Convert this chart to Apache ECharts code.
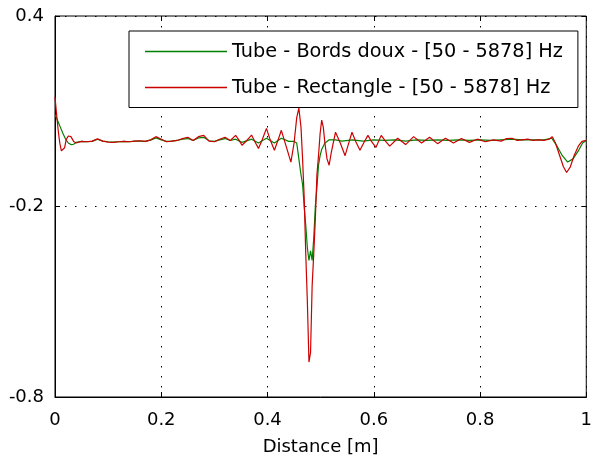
<!DOCTYPE html>
<html>
<head>
<meta charset="utf-8">
<script src="https://cdn.jsdelivr.net/npm/echarts@6/dist/echarts.min.js"></script>
<style>
html,body{margin:0;padding:0;background:#fff;}
#chart{width:595px;height:461px;}
</style>
</head>
<body>
<div id="chart"></div>
<script>
// ---- data ----
const seriesNames = ['Tube - Bords doux - [50 - 5878] Hz', 'Tube - Rectangle - [50 - 5878] Hz'];
const xTicks = [0, 0.2, 0.4, 0.6, 0.8, 1];
const yTicks = [-0.8, -0.2, 0.4];

const greenDistance = [0, 0.005, 0.01, 0.015, 0.02, 0.025, 0.03, 0.035, 0.04, 0.05,
  0.06, 0.07, 0.08, 0.09, 0.10, 0.11, 0.12, 0.13, 0.14, 0.15, 0.16, 0.17, 0.18, 0.19, 0.20,
  0.21, 0.22, 0.23, 0.24, 0.25, 0.26, 0.27, 0.28, 0.29, 0.30, 0.31, 0.32, 0.33,
  0.34, 0.352, 0.37, 0.383, 0.398, 0.413, 0.426, 0.44, 0.45,
  0.455, 0.459, 0.463, 0.466, 0.469, 0.472, 0.475, 0.478, 0.481, 0.484, 0.487, 0.490, 0.493,
  0.496, 0.499, 0.502, 0.505, 0.508, 0.512, 0.516, 0.52, 0.528,
  0.54, 0.56, 0.58, 0.60, 0.62, 0.64, 0.66, 0.68, 0.70, 0.72, 0.74, 0.76, 0.78, 0.80,
  0.82, 0.84, 0.86, 0.88, 0.90, 0.92, 0.935, 0.945, 0.955, 0.965, 0.975, 0.985, 0.993, 1.0];
const bordsDoux = [0.09, 0.07, 0.05, 0.03, 0.012, 0.0, -0.005, -0.004, 0.002, 0.005,
  0.004, 0.005, 0.012, 0.006, 0.004, 0.003, 0.004, 0.005, 0.004, 0.006, 0.006, 0.005, 0.009, 0.016, 0.01,
  0.005, 0.006, 0.008, 0.012, 0.014, 0.008, 0.016, 0.018, 0.007, 0.005, 0.01, 0.014, 0.008,
  0.012, 0.002, 0.012, 0.0, 0.015, 0.0, 0.015, 0.005, 0.005,
  0.0, -0.05, -0.1, -0.13, -0.2, -0.26, -0.33, -0.37, -0.34, -0.37, -0.3, -0.2, -0.14,
  -0.07, -0.04, -0.02, -0.01, 0.0, 0.005, 0.01, 0.01, 0.01,
  0.006, 0.01, 0.006, 0.01, 0.008, 0.01, 0.006, 0.01, 0.008, 0.01, 0.008, 0.01, 0.008, 0.01,
  0.008, 0.01, 0.012, 0.01, 0.01, 0.01, 0.015, -0.01, -0.04, -0.06, -0.05, -0.025, 0.0, 0.008];

const rectDistance = [0, 0.003, 0.006, 0.009, 0.012, 0.015, 0.018, 0.021, 0.025, 0.03, 0.035, 0.04, 0.045, 0.05,
  0.06, 0.07, 0.08, 0.09, 0.10, 0.11, 0.12, 0.13, 0.14, 0.15, 0.16, 0.17, 0.18, 0.19, 0.20,
  0.21, 0.22, 0.23, 0.24, 0.25, 0.26, 0.27, 0.28, 0.29, 0.30, 0.31, 0.32, 0.33,
  0.34, 0.346, 0.352, 0.361, 0.37, 0.376, 0.383, 0.39, 0.398, 0.405, 0.413, 0.42, 0.426, 0.435, 0.444, 0.45,
  0.455, 0.459, 0.463, 0.466, 0.469, 0.472, 0.475, 0.478, 0.481, 0.484, 0.487, 0.490, 0.493,
  0.496, 0.499, 0.502, 0.505, 0.508, 0.512, 0.516, 0.52, 0.528, 0.537, 0.546, 0.552, 0.559, 0.566, 0.574,
  0.581, 0.589, 0.596, 0.604, 0.614, 0.622, 0.63, 0.645, 0.66, 0.675, 0.69, 0.705, 0.72, 0.735,
  0.75, 0.765, 0.78, 0.795, 0.81, 0.825, 0.84, 0.85, 0.86, 0.87, 0.88, 0.89, 0.90, 0.91, 0.92, 0.93,
  0.936, 0.942, 0.95, 0.957, 0.963, 0.97, 0.977, 0.985, 0.992, 1.0];
const rectangle = [0.145, 0.09, 0.04, 0.0, -0.025, -0.03, -0.015, 0.01, 0.022, 0.02, 0.005, 0.0, 0.003, 0.005,
  0.004, 0.006, 0.013, 0.006, 0.003, 0.002, 0.004, 0.005, 0.004, 0.006, 0.007, 0.005, 0.01, 0.02, 0.012,
  0.004, 0.006, 0.008, 0.014, 0.018, 0.008, 0.02, 0.024, 0.006, 0.004, 0.012, 0.018, 0.008,
  0.024, 0.01, -0.007, 0.008, 0.025, 0.005, -0.017, 0.01, 0.046, 0.01, -0.023, 0.01, 0.04, -0.01, -0.06, 0.0,
  0.08, 0.11, 0.05, -0.05, -0.17, -0.35, -0.5, -0.69, -0.66, -0.45, -0.35, -0.24, -0.1,
  -0.04, 0.03, 0.072, 0.05, 0.0, -0.05, -0.07, -0.03, 0.034, 0.0, -0.04, -0.005, 0.034, 0.005, -0.023,
  0.0, 0.024, 0.004, -0.014, 0.024, 0.006, -0.01, 0.015, -0.005, 0.02, 0.0, 0.018, -0.002, 0.015,
  0.0, 0.014, 0.002, 0.012, 0.004, 0.01, 0.006, 0.014, 0.015, 0.008, 0.01, 0.012, 0.008, 0.01, 0.008, 0.012,
  0.02, 0.0, -0.04, -0.075, -0.093, -0.075, -0.04, -0.01, 0.005, 0.008];

const zip = (xs, ys) => xs.map((x, i) => [x, ys[i]]);

const FONT = 'DejaVu Sans';
const chart = echarts.init(document.getElementById('chart'), null, {renderer: 'canvas'});
const dotted = {color: '#000', width: 1, type: [1.5, 8.5]};

chart.setOption({
  backgroundColor: '#fff',
  animation: false,
  textStyle: {fontFamily: FONT},
  grid: {left: 55, right: 2, top: 16, bottom: 64, show: true, borderColor: '#000', borderWidth: 1, backgroundColor: '#fff'},
  legend: {
    data: seriesNames,
    orient: 'vertical',
    left: 129,
    top: 31,
    padding: [10.5, 15, 10, 16],
    icon: 'rect',
    itemWidth: 82,
    itemHeight: 1.3,
    itemGap: 16,
    backgroundColor: '#fff',
    borderColor: '#000',
    borderWidth: 1,
    borderRadius: 0,
    textStyle: {fontFamily: FONT, fontSize: 19.3, color: '#000', lineHeight: 20, padding: [0, 0, 0, 0]},
    selectedMode: false
  },
  xAxis: [{
    type: 'value', min: xTicks[0], max: xTicks[xTicks.length - 1], interval: xTicks[1] - xTicks[0],
    name: 'Distance [m]', nameLocation: 'middle', nameGap: 41,
    nameTextStyle: {fontFamily: FONT, fontSize: 18, color: '#000'},
    axisLine: {show: true, onZero: false, lineStyle: {color: '#000', width: 1}},
    axisTick: {show: true, inside: true, length: 5, lineStyle: {color: '#000'}},
    axisLabel: {fontFamily: FONT, fontSize: 18, color: '#000', margin: 14,
      formatter: v => String(Math.round(v * 10) / 10)},
    splitLine: {show: true, lineStyle: dotted}
  }, {
    type: 'value', position: 'top', min: xTicks[0], max: xTicks[xTicks.length - 1], interval: xTicks[1] - xTicks[0],
    axisLine: {show: false, onZero: false},
    axisTick: {show: true, inside: true, length: 5, lineStyle: {color: '#000'}},
    axisLabel: {show: false},
    splitLine: {show: false}
  }],
  yAxis: [{
    type: 'value', min: yTicks[0], max: yTicks[yTicks.length - 1], interval: yTicks[1] - yTicks[0],
    axisLine: {show: true, onZero: false, lineStyle: {color: '#000', width: 1}},
    axisTick: {show: true, inside: true, length: 5, lineStyle: {color: '#000'}},
    axisLabel: {fontFamily: FONT, fontSize: 18, color: '#000', margin: 11,
      formatter: v => (Math.round(v * 10) / 10).toFixed(1)},
    splitLine: {show: true, lineStyle: dotted}
  }, {
    type: 'value', position: 'right', min: yTicks[0], max: yTicks[yTicks.length - 1], interval: yTicks[1] - yTicks[0],
    axisLine: {show: false, onZero: false},
    axisTick: {show: true, inside: true, length: 5, lineStyle: {color: '#000'}},
    axisLabel: {show: false},
    splitLine: {show: false}
  }],
  series: [{
    name: seriesNames[0], type: 'line', xAxisIndex: 0, yAxisIndex: 0,
    data: zip(greenDistance, bordsDoux), symbol: 'none', smooth: false,
    lineStyle: {color: '#008000', width: 1.2}, itemStyle: {color: '#008000'}
  }, {
    name: seriesNames[1], type: 'line', xAxisIndex: 0, yAxisIndex: 0,
    data: zip(rectDistance, rectangle), symbol: 'none', smooth: false,
    lineStyle: {color: '#cc0000', width: 1.2}, itemStyle: {color: '#cc0000'}
  }]
});
</script>
</body>
</html>
